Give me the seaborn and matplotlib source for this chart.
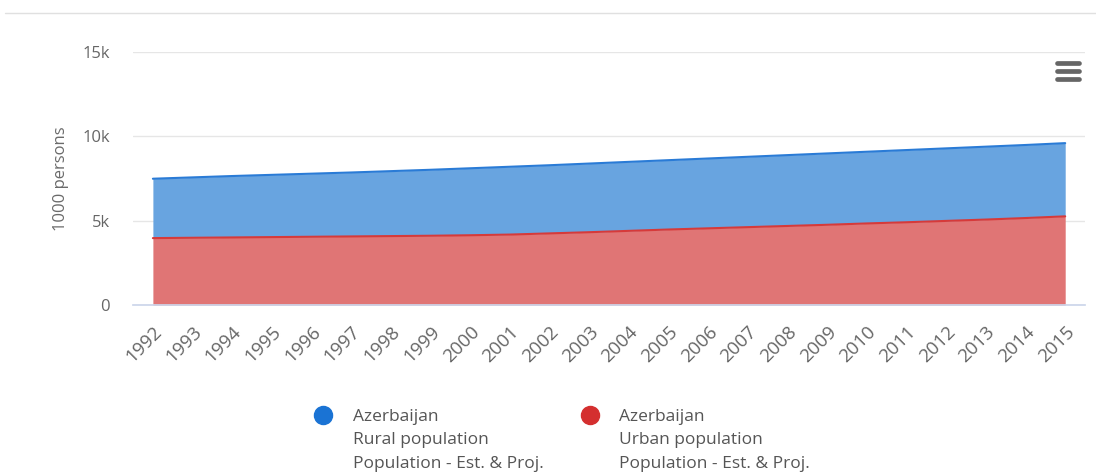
import numpy as np
import pandas as pd
import matplotlib.pyplot as plt
import seaborn as sns
from matplotlib.lines import Line2D

# === Data (1000 persons) ===
years = [str(y) for y in range(1992, 2016)]
urban = [3.97, 3.99, 4.01, 4.03, 4.05, 4.07, 4.09, 4.11, 4.14, 4.18, 4.25, 4.32,
         4.40, 4.48, 4.55, 4.62, 4.69, 4.76, 4.84, 4.91, 4.99, 5.07, 5.16, 5.26]
total = [7.49, 7.57, 7.65, 7.72, 7.79, 7.86, 7.94, 8.02, 8.11, 8.20, 8.29, 8.39,
         8.49, 8.59, 8.69, 8.79, 8.89, 8.99, 9.09, 9.19, 9.29, 9.39, 9.49, 9.60]
rural = [round((t - u) * 1000) for t, u in zip(total, urban)]
urban = [u * 1000 for u in urban]

df = pd.DataFrame({"year": years, "urban": urban, "rural": rural})
df["x"] = range(len(df))
df["top"] = df["urban"] + df["rural"]

legend_labels = ["Azerbaijan\nRural population\nPopulation - Est. & Proj.",
                 "Azerbaijan\nUrban population\nPopulation - Est. & Proj."]

# === Style ===
sns.set_theme(style="white")
plt.rcParams['font.family'] = ['Open Sans', 'DejaVu Sans']

blue_line, blue_fill = "#2a7bd6", "#68a4e0"
red_line, red_fill = "#d63a3a", "#e07575"

fig = plt.figure(figsize=(10.96, 4.73), dpi=100)
ax = fig.add_axes([0.1214, 0.355, 0.8686, 0.535])

# stacked areas
ax.fill_between(df["x"], 0, df["urban"], color=red_fill, lw=0, zorder=2)
ax.fill_between(df["x"], df["urban"], df["top"], color=blue_fill, lw=0, zorder=2)
sns.lineplot(x="x", y="urban", data=df, color=red_line, lw=1.5, ax=ax, zorder=3)
sns.lineplot(x="x", y="top", data=df, color=blue_line, lw=1.5, ax=ax, zorder=3)

ax.set_xlim(-0.5, len(years) - 0.5)
ax.set_ylim(0, 15000)
ax.set_yticks([0, 5000, 10000, 15000])
ax.set_yticklabels(["0", "5k", "10k", "15k"], color="#666666", fontsize=12)
ax.yaxis.grid(True, color="#e6e6e6", lw=1, zorder=0)
ax.set_axisbelow(True)

ax.set_xticks(df["x"])
ax.set_xticklabels(years, rotation=45, ha="right", rotation_mode="anchor",
                   color="#666666", fontsize=13.5)
ax.set_xticks(np.arange(-0.5, len(years), 1), minor=True)
ax.tick_params(axis="x", which="major", length=0, pad=13)
ax.tick_params(axis="x", which="minor", length=9, color="#ccd6eb", width=1)
ax.tick_params(axis="y", length=0, pad=16.5)

for s in ["top", "right", "left"]:
    ax.spines[s].set_visible(False)
ax.spines["bottom"].set_color("#ccd6eb")

ax.set_xlabel("")
ax.set_ylabel("1000 persons", color="#6a6a6a", fontsize=12, labelpad=10)

# top separator line
fig.add_artist(Line2D([0.005, 1.0], [1 - 13 / 473] * 2, transform=fig.transFigure,
                      color="#e0e0e0", lw=1))

# menu icon
for yy in [63, 71, 79]:
    fig.add_artist(Line2D([1057 / 1096, 1079 / 1096], [1 - yy / 473] * 2,
                          transform=fig.transFigure, color="#666666", lw=3.4,
                          solid_capstyle="round"))

# legend
for mx, tx, c, lab in [(323, 353, "#1a73d4", legend_labels[0]),
                       (590, 619, "#d42f2f", legend_labels[1])]:
    fig.add_artist(Line2D([mx / 1096], [1 - 415 / 473], transform=fig.transFigure,
                          marker="o", markersize=13, color=c, lw=0))
    fig.text(tx / 1096, 1 - 409 / 473, lab, ha="left", va="top",
             color="#555555", fontsize=12.5, linespacing=1.62)

fig.savefig("out.png", dpi=100)
